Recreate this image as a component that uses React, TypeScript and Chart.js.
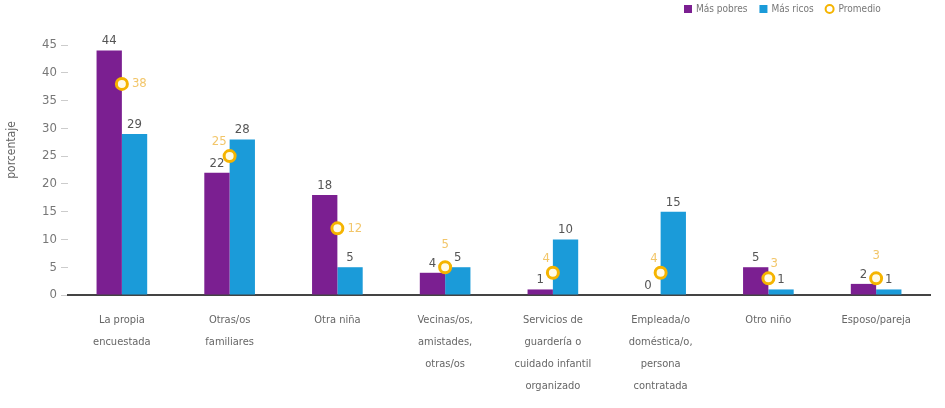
import React, { useEffect, useRef } from "react";
import { Chart, registerables } from "chart.js";

Chart.register(...registerables);

const categories: string[][] = [
  ["La propia", "encuestada"],
  ["Otras/os", "familiares"],
  ["Otra niña"],
  ["Vecinas/os,", "amistades,", "otras/os"],
  ["Servicios de", "guardería o", "cuidado infantil", "organizado"],
  ["Empleada/o", "doméstica/o,", "persona", "contratada"],
  ["Otro niño"],
  ["Esposo/pareja"],
];
const masPobres = [44, 22, 18, 4, 1, 0, 5, 2];
const masRicos = [29, 28, 5, 5, 10, 15, 1, 1];
const promedio = [38, 25, 12, 5, 4, 4, 3, 3];
const yTicks = [0, 5, 10, 15, 20, 25, 30, 35, 40, 45];

const seriesNames = ["Más pobres", "Más ricos", "Promedio"];
const promedioLabelPlacement = ["right", "topleft", "right", "top", "topleft", "topleft", "topright", "top"];

const PURPLE = "#7b1f91";
const BLUE = "#1b9bd9";
const YELLOW = "#f5b400";
const FONT = "'DejaVu Sans Condensed', 'Liberation Sans Narrow', sans-serif";

const labelsPlugin = {
  id: "customLabels",
  afterDraw(chart: any) {
    const ctx = chart.ctx;
    ctx.save();
    ctx.font = `13px ${FONT}`;
    ctx.fillStyle = "#555";
    ctx.textAlign = "center";
    ctx.textBaseline = "bottom";
    [0, 1].forEach((di) => {
      const meta = chart.getDatasetMeta(di);
      meta.data.forEach((el: any, i: number) => {
        const v = chart.data.datasets[di].data[i];
        ctx.fillText(String(v), el.x, el.y - 3);
      });
    });
    const pm = chart.getDatasetMeta(2);
    ctx.fillStyle = "#f2c66a";
    pm.data.forEach((el: any, i: number) => {
      const v = String(chart.data.datasets[2].data[i]);
      const p = promedioLabelPlacement[i];
      if (p === "right") {
        ctx.textAlign = "left";
        ctx.textBaseline = "middle";
        ctx.fillText(v, el.x + 10, el.y);
      } else if (p === "topleft") {
        ctx.textAlign = "right";
        ctx.textBaseline = "bottom";
        ctx.fillText(v, el.x - 3, el.y - 8);
      } else if (p === "topright") {
        ctx.textAlign = "left";
        ctx.textBaseline = "bottom";
        ctx.fillText(v, el.x + 2, el.y - 8);
      } else {
        ctx.textAlign = "center";
        ctx.textBaseline = "bottom";
        ctx.fillText(v, el.x, el.y - 16);
      }
    });
    ctx.fillStyle = "#666";
    ctx.font = `12px ${FONT}`;
    ctx.translate(12, 150);
    ctx.rotate(-Math.PI / 2);
    ctx.textAlign = "center";
    ctx.textBaseline = "middle";
    ctx.fillText("porcentaje", 0, 0);
    ctx.restore();

    ctx.save();
    ctx.font = `10px ${FONT}`;
    ctx.textBaseline = "middle";
    ctx.textAlign = "left";
    const y = 9;
    let x = 684;
    const colors = [PURPLE, BLUE];
    for (let k = 0; k < 2; k++) {
      ctx.fillStyle = colors[k];
      ctx.fillRect(x, y - 4, 8, 8);
      ctx.fillStyle = "#777";
      ctx.fillText(seriesNames[k], x + 12, y);
      x += 12 + ctx.measureText(seriesNames[k]).width + 12;
    }
    ctx.beginPath();
    ctx.arc(x + 4, y, 4, 0, Math.PI * 2);
    ctx.strokeStyle = YELLOW;
    ctx.lineWidth = 2;
    ctx.fillStyle = "#fff";
    ctx.fill();
    ctx.stroke();
    ctx.fillStyle = "#777";
    ctx.fillText(seriesNames[2], x + 13, y);
    ctx.restore();
  },
};

export default function App() {
  const ref = useRef<HTMLCanvasElement>(null);
  useEffect(() => {
    const chart = new Chart(ref.current as HTMLCanvasElement, {
      type: "bar",
      data: {
        labels: categories as any,
        datasets: [
          {
            label: seriesNames[0],
            data: masPobres,
            backgroundColor: PURPLE,
            categoryPercentage: 0.47,
            barPercentage: 1,
            order: 2,
          } as any,
          {
            label: seriesNames[1],
            data: masRicos,
            backgroundColor: BLUE,
            categoryPercentage: 0.47,
            barPercentage: 1,
            order: 2,
          },
          {
            type: "line",
            label: seriesNames[2],
            data: promedio,
            showLine: false,
            pointRadius: 5.5,
            pointBorderWidth: 3,
            pointBorderColor: YELLOW,
            pointBackgroundColor: "#fffbe8",
            order: 1,
          },
        ],
      },
      plugins: [labelsPlugin],
      options: {
        animation: false,
        responsive: false,
        maintainAspectRatio: false,
        layout: { padding: { top: 45, right: 15, left: 0, bottom: 0 } },
        plugins: { legend: { display: false }, tooltip: { enabled: false } },
        scales: {
          x: {
            grid: { display: false },
            border: { display: true, color: "#444", width: 2 },
            ticks: {
              color: "#666",
              font: { family: FONT, size: 11, lineHeight: 2 },
              maxRotation: 0,
              autoSkip: false,
              padding: 6,
            },
            afterFit(scale: any) {
              scale.height = 113;
            },
          },
          y: {
            min: 0,
            max: 45,
            afterBuildTicks(scale: any) {
              scale.ticks = yTicks.map((v) => ({ value: v }));
            },
            grid: {
              drawOnChartArea: false,
              drawTicks: true,
              tickLength: 7,
              color: "#ccc",
            },
            border: { display: false },
            ticks: {
              color: "#777",
              font: { family: FONT, size: 13 },
              padding: 4,
            },
            afterFit(scale: any) {
              scale.width = 68;
            },
          },
        },
      } as any,
    });
    return () => chart.destroy();
  }, []);
  return (
    <div style={{ position: "fixed", left: 0, top: 0, width: 945, height: 408, background: "#fff" }}>
      <canvas ref={ref} width={945} height={408} style={{ width: 945, height: 408 }} />
    </div>
  );
}
